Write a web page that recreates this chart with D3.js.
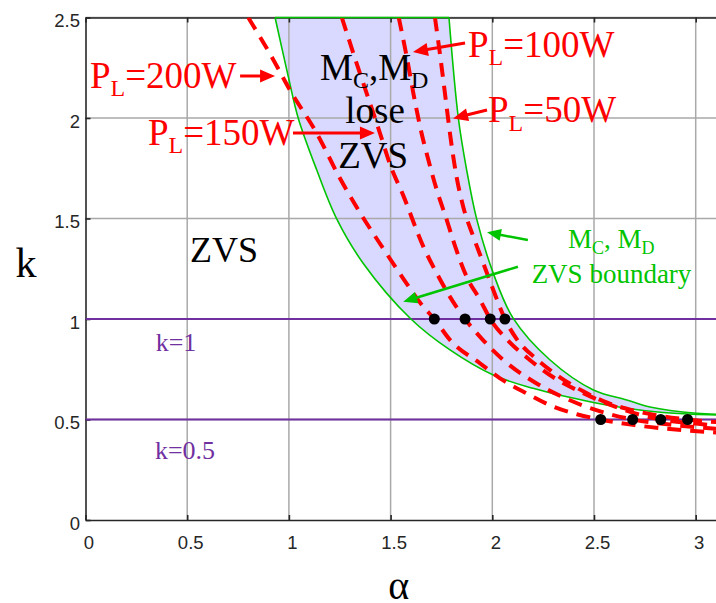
<!DOCTYPE html>
<html>
<head>
<meta charset="utf-8">
<script src="https://cdn.jsdelivr.net/npm/d3@7"></script>
<style>
  body { margin: 0; background: #fff; }
  svg { display: block; }
</style>
</head>
<body>
<div id="chart"></div>
<script>
// axis ticks
var alphaTicks = [0, 0.5, 1, 1.5, 2, 2.5, 3]
var alphaTickLabels = ["0", "0.5", "1", "1.5", "2", "2.5", "3"]
var kTicks = [0, 0.5, 1, 1.5, 2, 2.5]
var kTickLabels = ["0", "0.5", "1", "1.5", "2", "2.5"]

// MC, MD ZVS boundary (lower / upper edge of the shaded band)
var lowBoundAlpha = [0.932, 0.997, 1.046, 1.137, 1.235, 1.364, 1.60, 1.792, 2.005, 2.20, 2.497, 2.661, 2.825, 2.988, 3.2]
var lowBoundK     = [2.5, 2.206, 1.999, 1.741, 1.498, 1.279, 1.0, 0.846, 0.721, 0.655, 0.585, 0.556, 0.536, 0.526, 0.52]
var highBoundAlpha = [1.787, 1.833, 1.874, 1.923, 2.005, 2.103, 2.284, 2.497, 2.661, 2.775, 3.005, 3.2]
var highBoundK     = [2.5, 2.0, 1.741, 1.498, 1.227, 1.003, 0.796, 0.647, 0.597, 0.562, 0.531, 0.524]

// constant load power curves
var p200Alpha = [0.80, 0.924, 1.005, 1.137, 1.251, 1.349, 1.464, 1.563, 1.661, 1.715, 1.792, 1.939, 2.038, 2.169, 2.30, 2.42, 2.533, 2.70, 2.90, 3.2]
var p200K     = [2.5, 2.289, 2.139, 1.924, 1.70, 1.53, 1.35, 1.20, 1.061, 1.0, 0.896, 0.78, 0.705, 0.63, 0.564, 0.525, 0.5, 0.472, 0.45, 0.43]
var p150Alpha = [1.26, 1.333, 1.448, 1.497, 1.562, 1.661, 1.727, 1.792, 1.866, 1.95, 2.05, 2.2, 2.35, 2.5, 2.69, 2.9, 3.2]
var p150K     = [2.5, 2.272, 1.924, 1.77, 1.615, 1.36, 1.227, 1.11, 1.0, 0.9, 0.8, 0.69, 0.61, 0.55, 0.5, 0.472, 0.447]
var p100Alpha = [1.54, 1.579, 1.612, 1.645, 1.69, 1.727, 1.776, 1.808, 1.874, 1.94, 1.99, 2.07, 2.18, 2.3, 2.45, 2.6, 2.72, 2.828, 3.0, 3.2]
var p100K     = [2.5, 2.305, 2.123, 1.957, 1.775, 1.642, 1.493, 1.39, 1.21, 1.095, 1.0, 0.9, 0.8, 0.71, 0.63, 0.565, 0.525, 0.5, 0.48, 0.462]
var p50Alpha = [1.718, 1.745, 1.77, 1.795, 1.822, 1.857, 1.907, 1.956, 2.005, 2.062, 2.12, 2.218, 2.333, 2.447, 2.562, 2.693, 2.83, 2.96, 3.2]
var p50K     = [2.5, 2.3, 2.1, 1.9, 1.72, 1.559, 1.409, 1.277, 1.144, 1.0, 0.9, 0.80, 0.71, 0.64, 0.585, 0.545, 0.517, 0.5, 0.48]

// operating points on k=1 and k=0.5
var dotsK1Alpha = [1.715, 1.866, 1.99, 2.062]
var dotsK05Alpha = [2.533, 2.69, 2.828, 2.96]
var kLevels = [1, 0.5]
var kLevelLabels = ["k=1", "k=0.5"]

var width = 716, height = 603

var svg = d3.select("#chart")
  .append("svg")
    .attr("width", width)
    .attr("height", height)

var x = d3.scaleLinear().domain([0, 3.2]).range([85.5, 85.5 + 3.2 * 203.4])
var y = d3.scaleLinear().domain([0, 2.5]).range([520, 17.5])

var serif = "'Liberation Serif', 'Times New Roman', serif"
var sans = "'Liberation Sans', Arial, sans-serif"
var red = "#ff0000", green = "#00c400", purple = "#7030a0", axisCol = "#262626"

svg.append("defs").append("clipPath").attr("id", "plotClip")
  .append("rect")
    .attr("x", x(0)).attr("y", y(2.5))
    .attr("width", x(3.2) - x(0)).attr("height", y(0) - y(2.5))

function pts(a, k) { return a.map(function(d, i) { return [d, k[i]] }) }

// shaded band between the two boundaries
var bandLine = d3.line()
  .x(function(d) { return x(d[0]) })
  .y(function(d) { return y(d[1]) })
  .curve(d3.curveCatmullRom)
var lowPts = pts(lowBoundAlpha, lowBoundK)
var highPts = pts(highBoundAlpha, highBoundK)
svg.append("g").attr("clip-path", "url(#plotClip)")
  .append("path")
  .attr("d", bandLine(lowPts) + "L" + bandLine(highPts.slice().reverse()).slice(1) + "Z")
  .attr("fill", "rgb(217,217,255)")

// grid
svg.append("g").selectAll("line.gx")
  .data(alphaTicks.slice(1))
  .enter().append("line")
    .attr("x1", function(d) { return x(d) }).attr("x2", function(d) { return x(d) })
    .attr("y1", y(0)).attr("y2", y(2.5))
    .attr("stroke", "#a9a9a9").attr("stroke-width", 1.5)
svg.append("g").selectAll("line.gy")
  .data(kTicks.slice(1))
  .enter().append("line")
    .attr("x1", x(0)).attr("x2", x(3.2))
    .attr("y1", function(d) { return y(d) }).attr("y2", function(d) { return y(d) })
    .attr("stroke", "#a9a9a9").attr("stroke-width", 1.5)

// axes
var xAxis = svg.append("g")
  .attr("transform", "translate(0," + y(0) + ")")
  .call(d3.axisBottom(x).tickValues(alphaTicks).tickFormat(function(d, i) { return alphaTickLabels[i] })
    .tickSize(-5).tickSizeOuter(0).tickPadding(16))
var yAxis = svg.append("g")
  .attr("transform", "translate(" + x(0) + ",0)")
  .call(d3.axisLeft(y).tickValues(kTicks).tickFormat(function(d, i) { return kTickLabels[i] })
    .tickSize(-5).tickSizeOuter(0).tickPadding(5.5))
var topAxis = svg.append("g")
  .attr("transform", "translate(0," + y(2.5) + ")")
  .call(d3.axisTop(x).tickValues(alphaTicks).tickFormat("").tickSize(-5).tickSizeOuter(0))
;[xAxis, yAxis, topAxis].forEach(function(g) {
  g.selectAll("path, line").attr("stroke", axisCol).attr("stroke-width", 1.6)
  g.selectAll("text").attr("fill", axisCol).style("font-family", sans).style("font-size", "18.5px")
})
xAxis.selectAll("text").attr("dx", 3)
yAxis.selectAll("text").attr("dy", "0.5em")

var plot = svg.append("g").attr("clip-path", "url(#plotClip)")

// k = const lines
plot.selectAll("line.klev")
  .data(kLevels)
  .enter().append("line")
    .attr("x1", x(0)).attr("x2", x(3.2))
    .attr("y1", function(d) { return y(d) }).attr("y2", function(d) { return y(d) })
    .attr("stroke", purple).attr("stroke-width", 2)

// boundary lines
plot.selectAll("path.bound")
  .data([lowPts, highPts])
  .enter().append("path")
    .attr("d", bandLine)
    .attr("fill", "none").attr("stroke", green).attr("stroke-width", 1.6)
svg.append("line")
  .attr("x1", x(lowBoundAlpha[0])).attr("x2", x(highBoundAlpha[0]))
  .attr("y1", y(2.5)).attr("y2", y(2.5))
  .attr("stroke", green).attr("stroke-width", 1.6)

// power curves
var powerLine = d3.line()
  .x(function(d) { return x(d[0]) })
  .y(function(d) { return y(d[1]) })
  .curve(d3.curveMonotoneX)
plot.selectAll("path.power")
  .data([pts(p200Alpha, p200K), pts(p150Alpha, p150K), pts(p100Alpha, p100K), pts(p50Alpha, p50K)])
  .enter().append("path")
    .attr("d", powerLine)
    .attr("fill", "none").attr("stroke", red).attr("stroke-width", 4)
    .attr("stroke-dasharray", "14,9")

// dots
var dots = dotsK1Alpha.map(function(a) { return [a, 1] })
  .concat(dotsK05Alpha.map(function(a) { return [a, 0.5] }))
plot.selectAll("circle")
  .data(dots)
  .enter().append("circle")
    .attr("cx", function(d) { return x(d[0]) })
    .attr("cy", function(d) { return y(d[1]) })
    .attr("r", 5.5)
    .attr("fill", "black")

// k level labels
svg.selectAll("text.klab")
  .data(kLevelLabels)
  .enter().append("text")
    .attr("x", function(d, i) { return x([0.445, 0.489][i]) })
    .attr("y", function(d, i) { return y([0.841, 0.302][i]) })
    .attr("text-anchor", "middle")
    .style("font-family", serif).style("font-size", "26px")
    .attr("fill", purple)
    .text(function(d) { return d })

// text with subscripts: parts = [[text, isSub], ...]
function subText(px, py, parts, size, color, anchor) {
  var t = svg.append("text")
    .attr("x", px).attr("y", py)
    .attr("text-anchor", anchor || "start")
    .style("font-family", serif).style("font-size", size + "px")
    .attr("fill", color)
  var down = false
  parts.forEach(function(p) {
    var s = t.append("tspan").text(p[0])
    if (p[1]) { s.style("font-size", Math.round(size * 0.65) + "px"); if (!down) s.attr("dy", size * 0.22); down = true }
    else if (down) { s.attr("dy", -size * 0.22); down = false }
  })
  return t
}

function arrow(x1, y1, x2, y2, color, w, hl, hw) {
  var dx = x2 - x1, dy = y2 - y1, len = Math.sqrt(dx * dx + dy * dy)
  var ux = dx / len, uy = dy / len
  var bx = x2 - ux * hl, by = y2 - uy * hl
  svg.append("line")
    .attr("x1", x1).attr("y1", y1).attr("x2", bx + ux * 2).attr("y2", by + uy * 2)
    .attr("stroke", color).attr("stroke-width", w)
  svg.append("path")
    .attr("d", "M" + x2 + "," + y2 +
      "L" + (bx - uy * hw / 2) + "," + (by + ux * hw / 2) +
      "L" + (bx + uy * hw / 2) + "," + (by - ux * hw / 2) + "Z")
    .attr("fill", color)
}

// load power labels
subText(x(0.022), y(2.149), [["P"], ["L", 1], ["=200W"]], 37, red)
arrow(x(0.76), y(2.209), x(0.932), y(2.209), red, 3, 15, 13)
subText(x(0.307), y(1.866), [["P"], ["L", 1], ["=150W"]], 37, red)
arrow(x(1.02), y(1.925), x(1.423), y(1.925), red, 3, 15, 13)
subText(x(1.88), y(2.303), [["P"], ["L", 1], ["=100W"]], 37, red)
arrow(x(1.866), y(2.373), x(1.61), y(2.328), red, 3, 15, 13)
subText(x(1.979), y(1.978), [["P"], ["L", 1], ["=50W"]], 37, red)
arrow(x(1.974), y(2.04), x(1.807), y(1.998), red, 3, 15, 13)

// region labels
subText(x(1.153), y(2.189), [["M"], ["C", 1], [",M"], ["D", 1]], 37, "black")
subText(x(1.424), y(1.975), [["lose"]], 37, "black", "middle")
subText(x(1.414), y(1.751), [["ZVS"]], 37, "black", "middle")
subText(x(0.681), y(1.284), [["ZVS"]], 36, "black", "middle")

// boundary label
subText(x(2.372), y(1.353), [["M"], ["C", 1], [", M"], ["D", 1]], 27, green)
subText(x(2.586), y(1.179), [["ZVS boundary"]], 27, green, "middle")
arrow(x(2.175), y(1.393), x(1.974), y(1.431), green, 2.5, 14, 12)
arrow(x(2.126), y(1.26), x(1.562), y(1.086), green, 2.5, 14, 12)

// axis titles
svg.append("text")
  .attr("x", 26).attr("y", 277)
  .attr("text-anchor", "middle")
  .style("font-family", serif).style("font-size", "42px")
  .text("k")
svg.append("text")
  .attr("x", x(1.54)).attr("y", 599)
  .attr("text-anchor", "middle")
  .style("font-family", serif).style("font-size", "40px")
  .text("α")
</script>
</body>
</html>
